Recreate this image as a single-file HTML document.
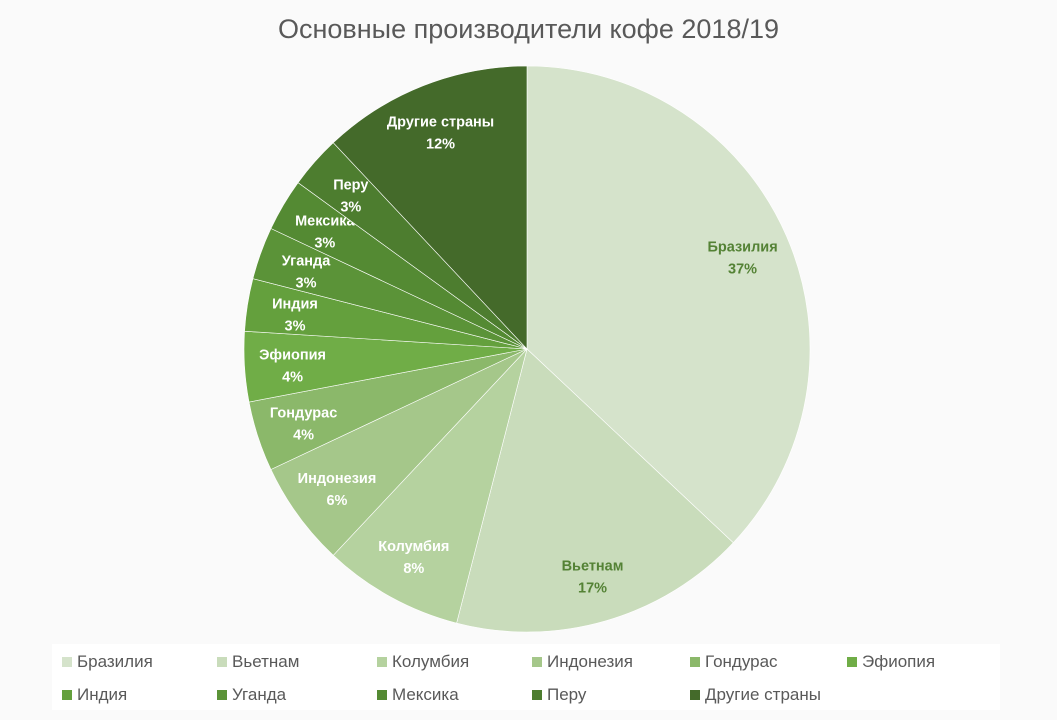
<!DOCTYPE html>
<html><head><meta charset="utf-8"><style>
body{margin:0;width:1057px;height:720px;background:#fafafa;font-family:"Liberation Sans","DejaVu Sans",sans-serif;overflow:hidden}
#title{position:absolute;top:14px;left:0;width:1057px;text-align:center;font-size:27px;color:#595959}
#legend{position:absolute;left:52px;top:644px;width:948px;height:66px;background:#fff}
.li{position:absolute;font-size:17px;color:#595959;white-space:nowrap}
.li span{display:inline-block;width:10px;height:10px;margin-right:5px;vertical-align:0px}
</style></head><body>
<div id="title">Основные производители кофе 2018/19</div>
<svg id="pie" width="1057" height="720" style="position:absolute;left:0;top:0"></svg>
<div id="legend"></div>
<script>
const categories=["Бразилия","Вьетнам","Колумбия","Индонезия","Гондурас","Эфиопия","Индия","Уганда","Мексика","Перу","Другие страны"];
const values=[37,17,8,6,4,4,3,3,3,3,12];
const colors=["#d5e3cb","#c9dcbb","#b5d29f","#a5c78a","#8bb86a","#70ad47","#64a03d","#5b9338","#548a33","#4d7d2f","#446a2a"];
const labelColors=["#548235","#548235","#fff","#fff","#fff","#fff","#fff","#fff","#fff","#fff","#fff"];
const cx=527,cy=349,R=283;
const svg=document.getElementById('pie');const NS="http://www.w3.org/2000/svg";
const total=values.reduce((a,b)=>a+b,0);
let a0=0;
values.forEach((v,i)=>{
 const a1=a0+v/total*2*Math.PI;
 const p=(a)=>[cx+R*Math.sin(a),cy-R*Math.cos(a)];
 const [x0,y0]=p(a0),[x1,y1]=p(a1);
 const path=document.createElementNS(NS,'path');
 path.setAttribute('d',`M${cx},${cy}L${x0},${y0}A${R},${R} 0 ${a1-a0>Math.PI?1:0} 1 ${x1},${y1}Z`);
 path.setAttribute('fill',colors[i]);path.setAttribute('stroke','#fff');path.setAttribute('stroke-width','0.6');
 
 
 svg.appendChild(path);
 const am=(a0+a1)/2,lr=R*0.83;
 const lx=cx+lr*Math.sin(am),ly=cy-lr*Math.cos(am);
 [[categories[i],-4],[Math.round(v/total*100)+'%',18]].forEach(([t,dy],k)=>{
  const tx=document.createElementNS(NS,'text');
  tx.setAttribute('x',lx);tx.setAttribute('y',ly+dy);tx.setAttribute('text-anchor','middle');
  tx.setAttribute('font-size','14.5');tx.setAttribute('font-weight','bold');tx.setAttribute('fill',labelColors[i]);
  tx.setAttribute('font-family','Liberation Sans, sans-serif');
  tx.textContent=t;
  
  
  svg.appendChild(tx);
 });
 a0=a1;
});
const lg=document.getElementById('legend');
const xs=[10,165,325,480,638,795];
categories.forEach((c,i)=>{
 const d=document.createElement('div');d.className='li';
 d.style.left=xs[i%6]+'px';d.style.top=(i<6?8:41)+'px';
 d.innerHTML='<span style="background:'+colors[i]+'"></span>'+c;
 
 
 lg.appendChild(d);
});
</script>
</body></html>
